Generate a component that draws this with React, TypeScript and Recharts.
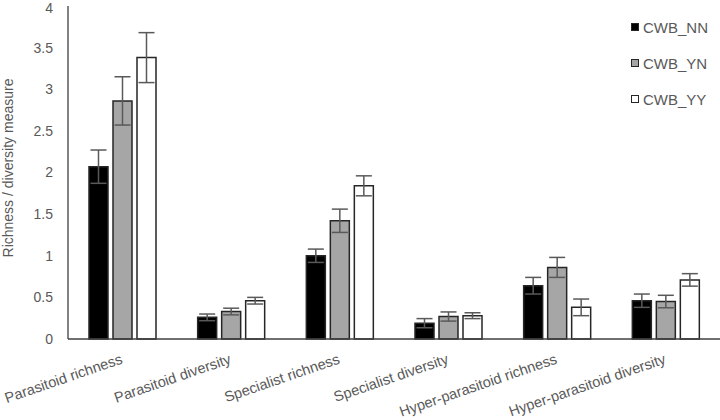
import React from 'react'
import { BarChart, Bar, XAxis, YAxis, ErrorBar } from 'recharts'

const categories = [
  'Parasitoid richness',
  'Parasitoid diversity',
  'Specialist richness',
  'Specialist diversity',
  'Hyper-parasitoid richness',
  'Hyper-parasitoid diversity',
]
const nn = [2.07, 0.26, 1.0, 0.19, 0.64, 0.46]
const nnErr = [0.2, 0.04, 0.08, 0.055, 0.1, 0.08]
const yn = [2.86, 0.33, 1.42, 0.27, 0.86, 0.45]
const ynErr = [0.29, 0.04, 0.14, 0.055, 0.12, 0.075]
const yy = [3.38, 0.46, 1.84, 0.28, 0.38, 0.71]
const yyErr = [0.3, 0.04, 0.12, 0.035, 0.1, 0.075]
const yTicks = [0, 0.5, 1, 1.5, 2, 2.5, 3, 3.5, 4]

const series = [
  { key: 'nn', name: 'CWB_NN', fill: '#000000' },
  { key: 'yn', name: 'CWB_YN', fill: '#a6a6a6' },
  { key: 'yy', name: 'CWB_YY', fill: '#ffffff' },
]

const rows = categories.map((c, i) => ({
  cat: c,
  nn: nn[i],
  nnErr: nnErr[i],
  yn: yn[i],
  ynErr: ynErr[i],
  yy: yy[i],
  yyErr: yyErr[i],
}))

const FONT = '"Liberation Sans", Arial, sans-serif'
const TXT = '#595959'

function XTick({ x, y, payload }: any) {
  return (
    <g transform={`translate(${x + 1},${y + 22})`}>
      <text transform="rotate(-19)" textAnchor="end" fontSize={14.6} fill={TXT} fontFamily={FONT}>
        {payload.value}
      </text>
    </g>
  )
}

function YTitle() {
  return (
    <text
      x={8}
      y={168}
      transform="rotate(-90 8 168)"
      textAnchor="middle"
      dominantBaseline="central"
      fontSize={14}
      fill={TXT}
      fontFamily={FONT}
    >
      Richness / diversity measure
    </text>
  )
}

// legend drawn outside the chart so it doesn't eat plot width
function LegendBox() {
  return (
    <div style={{ position: 'absolute', left: 631, top: 9, fontFamily: FONT, fontSize: 15, color: TXT }}>
      {series.map((s) => (
        <div key={s.key} style={{ display: 'flex', alignItems: 'center', height: 36 }}>
          <span
            style={{
              width: 6,
              height: 6,
              background: s.fill,
              border: '1px solid #262626',
              marginRight: 4,
              display: 'inline-block',
            }}
          />
          {s.name}
        </div>
      ))}
    </div>
  )
}

export default function App() {
  return (
    <div style={{ position: 'absolute', left: 0, top: 0, width: 720, height: 420, background: '#fff' }}>
      <BarChart
        width={720}
        height={420}
        data={rows}
        margin={{ top: 6, right: 0, left: 0, bottom: 0 }}
        barSize={19}
        barGap={5}
      >
        <XAxis
          dataKey="cat"
          height={81}
          interval={0}
          tickLine={false}
          tickSize={0}
          tick={<XTick />}
          axisLine={{ stroke: '#404040', strokeWidth: 1.3 }}
        />
        <YAxis
          width={68}
          domain={[0, 4]}
          ticks={yTicks}
          tickLine={false}
          tickSize={0}
          tickMargin={15}
          axisLine={{ stroke: '#404040', strokeWidth: 1.3 }}
          tick={{ fontSize: 14, fill: TXT, fontFamily: FONT }}
          label={<YTitle />}
        />
        {series.map((s) => (
          <Bar
            key={s.key}
            dataKey={s.key}
            name={s.name}
            fill={s.fill}
            stroke="#262626"
            strokeWidth={1.5}
            isAnimationActive={false}
          >
            <ErrorBar dataKey={s.key + 'Err'} width={8} stroke="#595959" strokeWidth={1.5} direction="y" />
          </Bar>
        ))}
      </BarChart>
      <LegendBox />
    </div>
  )
}
